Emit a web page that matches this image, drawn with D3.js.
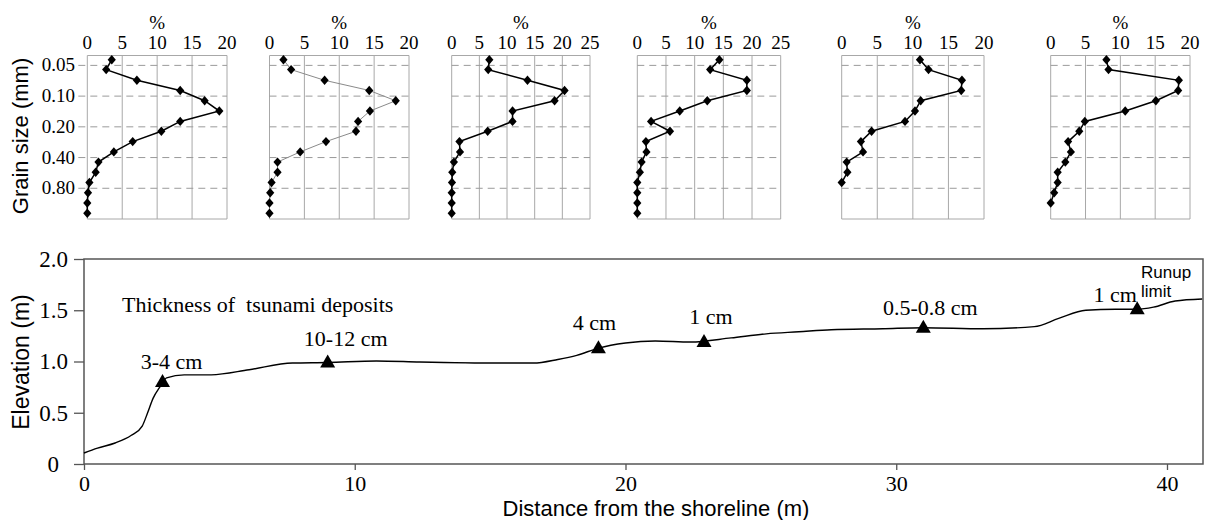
<!DOCTYPE html>
<html>
<head>
<meta charset="utf-8">
<script src="https://cdn.jsdelivr.net/npm/d3@7/dist/d3.min.js"></script>
<style>
  body { margin: 0; background: #fff; }
  svg { display: block; }
</style>
</head>
<body>
<div id="chart"></div>
<script>
// grain size classes (mm) of the sieve steps, top to bottom
const grainSizes = [0.044, 0.055, 0.070, 0.088, 0.111, 0.140, 0.177, 0.221, 0.279, 0.352, 0.443, 0.558, 0.703, 0.886, 1.116, 1.406];
const sizeLines = [0.05, 0.10, 0.20, 0.40, 0.80];
const sizeLabels = ["0.05", "0.10", "0.20", "0.40", "0.80"];

// weight % per class, one array per sample (landward order)
const sample1 = [3.5, 2.7, 7.1, 13.3, 16.8, 18.9, 13.3, 10.6, 6.5, 3.8, 1.6, 1.2, 0.3, 0.1, 0, 0];
const sample2 = [2.0, 3.1, 7.9, 14.3, 18.1, 14.4, 12.7, 12.4, 8.1, 4.4, 1.15, 1.15, 0.3, 0.1, 0, 0];
const sample3 = [6.8, 6.6, 13.7, 20.4, 18.6, 11.0, 11.0, 6.5, 1.4, 1.5, 0.4, 0.1, 0.05, 0, 0, 0];
const sample4 = [14.3, 12.7, 19.1, 19.1, 12.2, 7.4, 2.4, 5.7, 1.5, 1.6, 0.75, 0.45, 0, 0, 0, 0];
const sample5 = [11.0, 12.2, 16.9, 16.8, 11.1, 10.3, 8.9, 4.2, 2.7, 3.0, 0.7, 0.8, 0];
const sample6 = [8.0, 8.3, 18.4, 18.3, 15.1, 10.7, 4.9, 4.1, 2.5, 2.9, 2.1, 1.0, 1.0, 0.5, 0];
const samples = [sample1, sample2, sample3, sample4, sample5, sample6];
const pctMax = [20, 20, 25, 25, 20, 20];

// beach profile
const distance  = [0, 0.5, 1.15, 1.75, 2.15, 2.35, 2.55, 2.8, 3.05, 3.7, 4.7, 6.1, 7.7, 9.0, 10.8, 12.4, 15.3, 16.6, 17.5, 18.2, 19.0, 20.0, 21.1, 22.4, 23.9, 25.2, 26.4, 27.6, 29.5, 31.0, 33.2, 35.1, 36.0, 37.0, 38.1, 38.9, 39.5, 40.3, 41.3];
const elevation = [0.107, 0.155, 0.205, 0.28, 0.37, 0.5, 0.64, 0.75, 0.84, 0.87, 0.87, 0.92, 0.985, 0.99, 1.005, 0.995, 0.985, 0.985, 1.02, 1.06, 1.13, 1.18, 1.2, 1.19, 1.23, 1.27, 1.29, 1.31, 1.32, 1.33, 1.32, 1.34, 1.42, 1.5, 1.51, 1.51, 1.53, 1.59, 1.61];

// sampling sites
const siteDistance  = [2.9, 9.0, 19.0, 22.9, 31.0, 38.9];
const siteElevation = [0.80, 0.99, 1.13, 1.19, 1.33, 1.51];
const siteLabels    = ["3-4 cm", "10-12 cm", "4 cm", "1 cm", "0.5-0.8 cm", "1 cm"];

const elevTicks = [0, 0.5, 1.0, 1.5, 2.0];
const elevTickLabels = ["0", "0.5", "1.0", "1.5", "2.0"];
const distTicks = [0, 10, 20, 30, 40];

// layout only
const W = 1209, H = 520;
const panelLeft  = [87.3, 269.5, 451.7, 637.3, 841.7, 1050.7];
const panelWidth = [139.7, 139.5, 138.3, 143.4, 142.3, 139.3];
const panelTop = 55.5, panelBottom = 219;
const labelDx = [9, 18, -4, 7, 7, -22];
const labelDy = [-20, -24, -25, -25, -20, -14];

const serif = "'Liberation Serif', 'Times New Roman', serif";
const sans  = "'Liberation Sans', Arial, sans-serif";

const svg = d3.select("#chart").append("svg")
  .attr("width", W)
  .attr("height", H);
svg.append("rect").attr("width", W).attr("height", H).attr("fill", "#fff");

// ---------- grain size panels ----------
const y = d3.scaleLog()
  .domain([0.04, 1.6])
  .range([panelTop, panelBottom]);

const diamond = "M0,-4.7L4.1,0L0,4.7L-4.1,0Z";

samples.forEach((data, p) => {
  const x = d3.scaleLinear()
    .domain([0, pctMax[p]])
    .range([panelLeft[p], panelLeft[p] + panelWidth[p]]);
  const g = svg.append("g");

  // vertical grid lines
  g.selectAll(".vgrid")
    .data(x.ticks(pctMax[p] / 5))
    .enter().append("line")
    .attr("x1", d => x(d)).attr("x2", d => x(d))
    .attr("y1", panelTop).attr("y2", panelBottom)
    .attr("stroke", "#a8a8a8").attr("stroke-width", 1);

  // top / bottom frame
  [panelTop, panelBottom].forEach(yy => {
    g.append("line")
      .attr("x1", x(0)).attr("x2", x(pctMax[p]))
      .attr("y1", yy).attr("y2", yy)
      .attr("stroke", "#a8a8a8").attr("stroke-width", 1);
  });

  // dashed size lines
  g.selectAll(".hgrid")
    .data(sizeLines)
    .enter().append("line")
    .attr("x1", p === 0 ? x(0) - 9 : x(0))
    .attr("x2", x(pctMax[p]))
    .attr("y1", d => y(d)).attr("y2", d => y(d))
    .attr("stroke", "#9a9a9a").attr("stroke-width", 1)
    .attr("stroke-dasharray", "7,5");

  // tick labels on top
  g.selectAll(".xt")
    .data(x.ticks(pctMax[p] / 5))
    .enter().append("text")
    .attr("x", d => x(d)).attr("y", 49)
    .attr("text-anchor", "middle")
    .attr("font-family", serif).attr("font-size", 19)
    .text(d => d);

  g.append("text")
    .attr("x", x(pctMax[p] / 2)).attr("y", 29)
    .attr("text-anchor", "middle")
    .attr("font-family", serif).attr("font-size", 19)
    .text("%");

  const pts = data.map((v, i) => [x(v), y(grainSizes[i])]);

  g.append("path")
    .attr("d", d3.line()(pts))
    .attr("fill", "none")
    .attr("stroke", p === 1 ? "#8a8a8a" : "#000")
    .attr("stroke-width", p === 1 ? 1 : 1.5);

  g.selectAll(".pt")
    .data(pts)
    .enter().append("path")
    .attr("d", diamond)
    .attr("transform", d => "translate(" + d[0] + "," + d[1] + ")")
    .attr("fill", "#000");
});

// grain size labels (first panel)
svg.selectAll(".ylab")
  .data(sizeLines)
  .enter().append("text")
  .attr("x", 75).attr("y", d => y(d) + 6)
  .attr("text-anchor", "end")
  .attr("font-family", serif).attr("font-size", 19)
  .text((d, i) => sizeLabels[i]);

svg.append("text")
  .attr("transform", "translate(28,136) rotate(-90)")
  .attr("text-anchor", "middle")
  .attr("font-family", sans).attr("font-size", 22)
  .text("Grain size (mm)");

// ---------- elevation profile ----------
const px = d3.scaleLinear().domain([0, 41.33]).range([84, 1203]);
const py = d3.scaleLinear().domain([0, 2]).range([464, 259]);

const axisColor = "#555";

const xAxis = svg.append("g")
  .attr("transform", "translate(0," + py(0) + ")")
  .call(d3.axisBottom(px).tickValues(distTicks).tickSize(6).tickPadding(5));
xAxis.select(".domain").remove();
xAxis.selectAll("line").attr("stroke", axisColor).attr("stroke-width", 1.3);
xAxis.selectAll("text").attr("font-family", serif).attr("font-size", 22).attr("fill", "#000");

const yAxis = svg.append("g")
  .attr("transform", "translate(" + px(0) + ",0)")
  .call(d3.axisLeft(py).tickValues(elevTicks).tickSize(10).tickPadding(6)
    .tickFormat((d, i) => elevTickLabels[i]));
yAxis.select(".domain").remove();
yAxis.selectAll("line").attr("stroke", axisColor).attr("stroke-width", 1.3);
yAxis.selectAll("text").attr("font-family", serif).attr("font-size", 23).attr("fill", "#000");
// the lone "0" sits a little further left in the original
yAxis.selectAll("text").filter(d => d === 0).attr("dx", -9);

// frame
svg.append("rect")
  .attr("x", px(0)).attr("y", py(2))
  .attr("width", px(41.33) - px(0))
  .attr("height", py(0) - py(2))
  .attr("fill", "none")
  .attr("stroke", axisColor).attr("stroke-width", 1.5);

const profile = distance.map((d, i) => [px(d), py(elevation[i])]);
svg.append("path")
  .attr("d", d3.line().curve(d3.curveMonotoneX)(profile))
  .attr("fill", "none")
  .attr("stroke", "#000")
  .attr("stroke-width", 1.4);

const tri = "M0,-8L7.5,5L-7.5,5Z";
svg.selectAll(".site")
  .data(siteDistance)
  .enter().append("path")
  .attr("d", tri)
  .attr("transform", (d, i) => "translate(" + px(d) + "," + py(siteElevation[i]) + ")")
  .attr("fill", "#000");

svg.selectAll(".siteLab")
  .data(siteDistance)
  .enter().append("text")
  .attr("x", (d, i) => px(d) + labelDx[i])
  .attr("y", (d, i) => py(siteElevation[i]) + labelDy[i] + 7)
  .attr("text-anchor", "middle")
  .attr("font-family", serif).attr("font-size", 22)
  .text((d, i) => siteLabels[i]);

svg.append("text")
  .attr("x", 122).attr("y", 312)
  .attr("font-family", serif).attr("font-size", 22)
  .attr("xml:space", "preserve")
  .style("white-space", "pre")
  .text("Thickness of  tsunami deposits");

svg.append("text")
  .attr("x", 1141).attr("y", 278)
  .attr("font-family", sans).attr("font-size", 17)
  .text("Runup");
svg.append("text")
  .attr("x", 1141).attr("y", 297)
  .attr("font-family", sans).attr("font-size", 17)
  .text("limit");

svg.append("text")
  .attr("transform", "translate(29,362) rotate(-90)")
  .attr("text-anchor", "middle")
  .attr("font-family", sans).attr("font-size", 23)
  .text("Elevation (m)");

svg.append("text")
  .attr("x", 656).attr("y", 516)
  .attr("text-anchor", "middle")
  .attr("font-family", sans).attr("font-size", 22)
  .text("Distance from the shoreline (m)");
</script>
</body>
</html>
